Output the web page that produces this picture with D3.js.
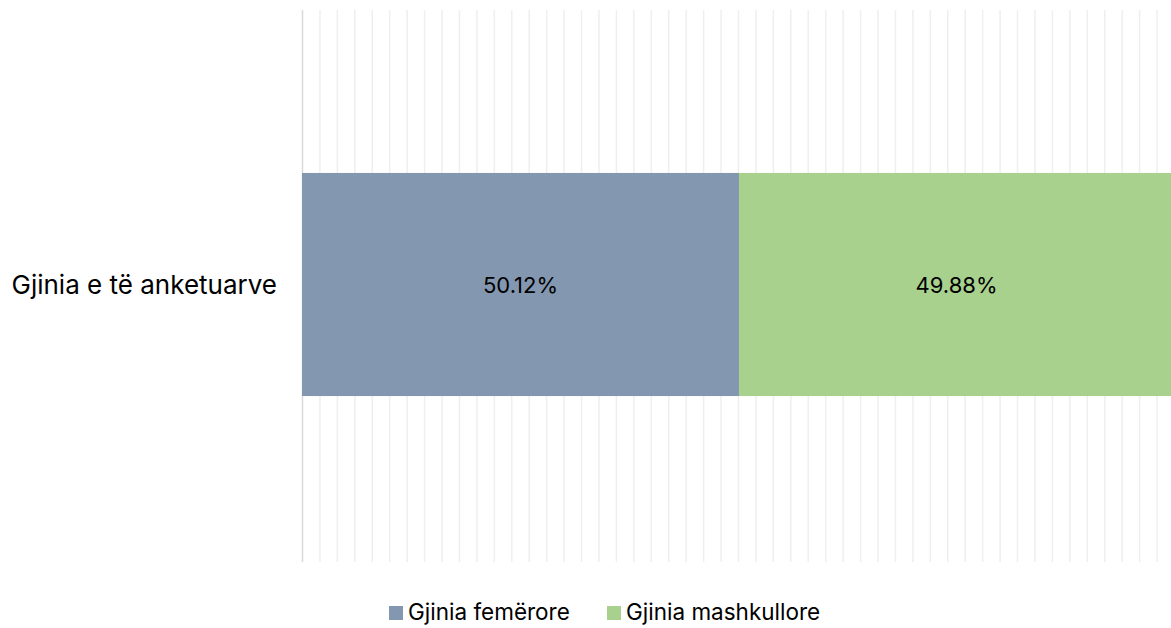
<!DOCTYPE html>
<html><head><meta charset="utf-8">
<script src="https://cdn.jsdelivr.net/npm/d3@7"></script>
<style>body{margin:0;background:#fff;overflow:hidden}text{font-family:Inter,"Noto Sans",sans-serif;fill:#000}</style>
</head><body>
<svg id="c" width="1171" height="628"></svg>
<script>
const categories = ["Gjinia e të anketuarve"];
const seriesNames = ["Gjinia femërore", "Gjinia mashkullore"];
const femeroreValues = [50.12];
const mashkulloreValues = [49.88];
const xTicks = d3.range(0, 101, 2);
const colors = ["#8497b0", "#a9d18e"];

const svg = d3.select("#c");
const x = d3.scaleLinear().domain([0, 100]).range([302, 1174]);
const y = d3.scaleBand().domain(categories).range([7, 562]).paddingInner(0).paddingOuter(0.744);

// gridlines
svg.append("g").selectAll("line").data(xTicks).join("line")
  .attr("x1", d => x(d) + 0.5).attr("x2", d => x(d) + 0.5)
  .attr("y1", 10).attr("y2", 562)
  .attr("stroke", d => d === 0 ? "#d9d9d9" : "#efefef").attr("stroke-width", 1.5);

const rows = categories.map((c, i) => ({cat: c, vals: [femeroreValues[i], mashkulloreValues[i]]}));
rows.forEach(r => {
  let acc = 0;
  r.vals.forEach((v, j) => {
    const g = svg.append("g");
    g.append("rect").attr("x", x(acc)).attr("y", y(r.cat))
      .attr("width", x(acc + v) - x(acc)).attr("height", y.bandwidth())
      .attr("fill", colors[j]);
    g.append("text").attr("x", (x(acc) + x(acc + v)) / 2).attr("y", y(r.cat) + y.bandwidth() / 2 + 8)
      .attr("text-anchor", "middle")
      .attr("font-size", 22).text(v.toFixed(2) + "%");
    acc += v;
  });
  svg.append("text").attr("x", 277).attr("y", y(r.cat) + y.bandwidth() / 2 + 9)
    .attr("text-anchor", "end")
    .attr("font-size", 26).text(r.cat);
});

// legend
const lg = svg.append("g");
const lx = [389, 607];
seriesNames.forEach((n, i) => {
  lg.append("rect").attr("x", lx[i]).attr("y", 606).attr("width", 14).attr("height", 14).attr("fill", colors[i]);
  lg.append("text").attr("x", lx[i] + 19).attr("y", 620)
    .attr("font-size", 22.5).text(n);
});
</script>
</body></html>
